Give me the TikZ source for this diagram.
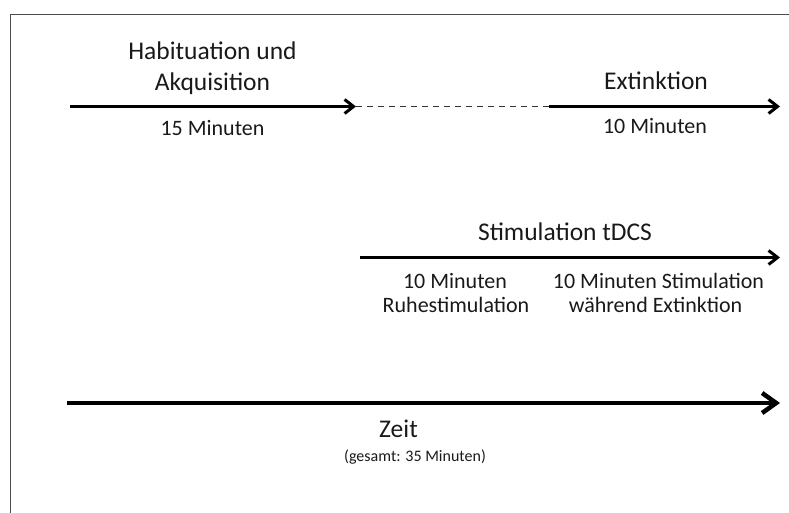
\documentclass[tikz,border=0pt]{standalone}
\usepackage{fontspec}
\setmainfont{Carlito}
\usetikzlibrary{arrows.meta}
\tikzset{
  big/.style={font=\fontsize{25.5bp}{30bp}\selectfont, inner sep=0pt, anchor=base, text=black!90},
  small/.style={font=\fontsize{22bp}{26bp}\selectfont, inner sep=0pt, anchor=base, text=black!90},
  tiny/.style={font=\fontsize{16bp}{19bp}\selectfont, inner sep=0pt, anchor=base, text=black!90},
  phase/.style={line width=3bp, -{Straight Barb[length=9bp,width=14bp,line width=3bp]}},
  timeline/.style={line width=4.5bp, -{Straight Barb[length=14bp,width=20bp,line width=4.5bp]}},
  gap/.style={line width=1.3bp, dash pattern=on 6bp off 5bp, draw=black!80},
  frame/.style={line width=1bp, draw=black!70}
}
\begin{document}
\begin{tikzpicture}[x=1bp,y=-1bp]
\useasboundingbox (0,0) rectangle (789,513);
% frame
\coordinate (fl) at (10.5,513);
\coordinate (fc) at (10.5,14.5);
\coordinate (fr) at (789,14.5);
\draw[frame] (fl) -- (fc) -- (fr);

% phase 1
\coordinate (a1) at (70,106.5);
\coordinate (a2) at (356,106.5);
\draw[phase] (a1) -- (a2);
\node[big] (hab1) at (212.5,60) {Habituation und};
\node[big] (hab2) at (212.5,90.5) {Akquisition};
\node[small] (min15) at (212.5,136) {15 Minuten};

% gap
\coordinate (b1) at (549,106.5);
\draw[gap] (a2) -- (b1);

% phase 2
\coordinate (b2) at (780,106.5);
\draw[phase] (b1) -- (b2);
\node[big] (ext) at (656,89.3) {Extinktion};
\node[small] (min10) at (655,134) {10 Minuten};

% stimulation
\coordinate (s1) at (360,257.5);
\coordinate (s2) at (780,257.5);
\draw[phase] (s1) -- (s2);
\node[big] (stim) at (565,240.5) {Stimulation tDCS};
\node[small] (r1) at (455,289) {10 Minuten};
\node[small] (r2) at (456,313) {Ruhestimulation};
\node[small] (e1) at (658.5,289) {10 Minuten Stimulation};
\node[small] (e2) at (655.5,313) {während Extinktion};

% time axis
\coordinate (t1) at (67,403);
\coordinate (t2) at (780,403);
\draw[timeline] (t1) -- (t2);
\node[big] (zeit) at (398.5,437) {Zeit};
\node[tiny] (ges) at (415,461) {(gesamt: 35 Minuten)};
\end{tikzpicture}
\end{document}
